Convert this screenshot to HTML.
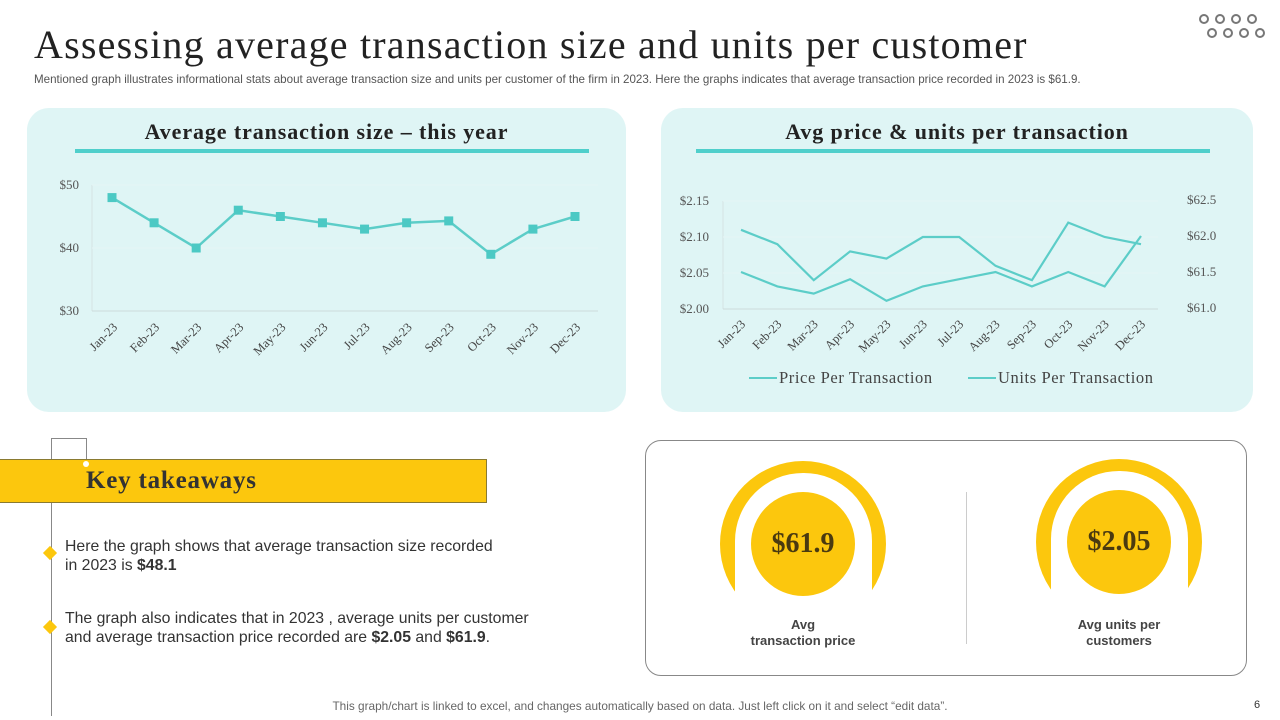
<!DOCTYPE html>
<html><head><meta charset="utf-8">
<style>
body{margin:0;width:1280px;height:720px;position:relative;background:#fff;font-family:"Liberation Sans",sans-serif;overflow:hidden}
.abs{position:absolute}
.serif{font-family:"Liberation Serif",serif}
.panel{background:#dff5f5;border-radius:22px}
</style></head><body>
<div class="abs serif" style="left:34px;top:21px;font-size:40px;color:#222;letter-spacing:1.2px;white-space:nowrap">Assessing average transaction size and units per customer</div>
<div class="abs" style="left:34px;top:73px;font-size:11.6px;color:#555;white-space:nowrap">Mentioned graph illustrates informational stats about average transaction size and units per customer of the firm in 2023. Here the graphs indicates that average transaction price recorded in 2023 is $61.9.</div>
<svg class="abs" style="left:1196px;top:12px" width="72" height="28">
<g fill="none" stroke="#777" stroke-width="2"><circle cx="8" cy="7" r="4"/><circle cx="24" cy="7" r="4"/><circle cx="40" cy="7" r="4"/><circle cx="56" cy="7" r="4"/><circle cx="16" cy="21" r="4"/><circle cx="32" cy="21" r="4"/><circle cx="48" cy="21" r="4"/><circle cx="64" cy="21" r="4"/></g></svg>

<div class="abs panel" style="left:27px;top:108px;width:599px;height:304px"></div>
<div class="abs serif" style="left:27px;top:119px;width:599px;text-align:center;font-size:22px;letter-spacing:0.9px;font-weight:bold;color:#222">Average transaction size – this year</div>
<div class="abs" style="left:75px;top:149px;width:514px;height:4px;background:#4fcfcb"></div>
<div class="abs panel" style="left:661px;top:108px;width:592px;height:304px"></div>
<div class="abs serif" style="left:661px;top:119px;width:592px;text-align:center;font-size:22px;letter-spacing:0.9px;font-weight:bold;color:#222">Avg price &amp; units per transaction</div>
<div class="abs" style="left:696px;top:149px;width:514px;height:4px;background:#4fcfcb"></div>

<svg id="charts" class="abs" style="left:0;top:0" width="1280" height="420"></svg>

<div class="abs" style="left:51px;top:438px;width:1px;height:278px;background:#888"></div>
<div class="abs" style="left:51px;top:438px;width:35px;height:22px;border-top:1px solid #888;border-right:1px solid #888"></div>
<div class="abs" style="left:0;top:459px;width:486px;height:42px;background:#fcc70d;border:1px solid #8a7a30;border-left:none"></div>
<div class="abs" style="left:83px;top:461px;width:6px;height:6px;border-radius:50%;background:#fff"></div>
<div class="abs serif" style="left:86px;top:467px;font-size:25px;letter-spacing:0.8px;font-weight:bold;color:#333">Key takeaways</div>
<div class="abs" style="left:45px;top:548px;width:10px;height:10px;background:#fcc70d;transform:rotate(45deg)"></div>
<div class="abs" style="left:65px;top:537px;font-size:15.8px;color:#333;line-height:19px;white-space:nowrap">Here the graph shows that average transaction size recorded<br>in 2023 is <b>$48.1</b></div>
<div class="abs" style="left:45px;top:622px;width:10px;height:10px;background:#fcc70d;transform:rotate(45deg)"></div>
<div class="abs" style="left:65px;top:609px;font-size:15.8px;color:#333;line-height:19px;white-space:nowrap">The graph also indicates that in 2023 , average units per customer<br>and average transaction price recorded are <b>$2.05</b> and <b>$61.9</b>.</div>

<div class="abs" style="left:645px;top:440px;width:602px;height:236px;border:1px solid #888;border-radius:16px;box-sizing:border-box"></div>
<div class="abs" style="left:966px;top:492px;width:1px;height:152px;background:#ccc"></div>
<svg class="abs" style="left:645px;top:440px" width="600" height="235">
<circle cx="158" cy="104" r="83" fill="#fcc70d"/><rect x="90" y="33" width="137" height="190" rx="68" fill="#fff"/><rect x="90" y="150" width="137" height="70" fill="#fff"/>
<circle cx="158" cy="104" r="52" fill="#fcc70d"/>
<circle cx="474" cy="102" r="83" fill="#fcc70d"/><rect x="406" y="31" width="137" height="190" rx="68" fill="#fff"/><rect x="406" y="148" width="137" height="70" fill="#fff"/>
<circle cx="474" cy="102" r="52" fill="#fcc70d"/>
</svg>
<div class="abs serif" style="left:733px;top:528px;width:140px;text-align:center;font-size:28px;font-weight:bold;color:#4a3a10">$61.9</div>
<div class="abs" style="left:733px;top:617px;width:140px;text-align:center;font-size:13px;font-weight:bold;color:#444;line-height:16px">Avg<br>transaction price</div>
<div class="abs serif" style="left:1049px;top:526px;width:140px;text-align:center;font-size:28px;font-weight:bold;color:#4a3a10">$2.05</div>
<div class="abs" style="left:1049px;top:617px;width:140px;text-align:center;font-size:13px;font-weight:bold;color:#444;line-height:16px">Avg units per<br>customers</div>

<div class="abs" style="left:0;top:699px;width:1280px;text-align:center;font-size:11.8px;color:#666">This graph/chart is linked to excel, and changes automatically based on data. Just left click on it and select “edit data”.</div>
<div class="abs" style="left:1254px;top:699px;font-size:11px;color:#333">6</div>

<script>
const months=["Jan-23","Feb-23","Mar-23","Apr-23","May-23","Jun-23","Jul-23","Aug-23","Sep-23","Oct-23","Nov-23","Dec-23"];
const sizeValues=[48,44,40,46,45,44,43,44,44.3,39,43,45];
const sizeTicks=[30,40,50];
const unitsValues=[2.11,2.09,2.04,2.08,2.07,2.10,2.10,2.06,2.04,2.12,2.10,2.09];
const priceValues=[61.5,61.3,61.2,61.4,61.1,61.3,61.4,61.5,61.3,61.5,61.3,62.0];
const unitsTicks=[2.00,2.05,2.10,2.15];
const priceTicks=[61.0,61.5,62.0,62.5];
const NS="http://www.w3.org/2000/svg";
const svg=document.getElementById('charts');
function mk(t,a,txt){const e=document.createElementNS(NS,t);for(const k in a)e.setAttribute(k,a[k]);if(txt!=null)e.textContent=txt;svg.appendChild(e);return e;}
const C="#5ccdc8";
const lx=i=>112+i*(575-112)/11, ly=v=>311-(v-30)*(311-185)/20;
mk('line',{x1:92,y1:185,x2:92,y2:311,stroke:'#d4e4e4'});
sizeTicks.forEach(t=>{
 const g=mk('line',{x1:92,x2:598,y1:ly(t),y2:ly(t),stroke:t==30?'#ccdada':'#e6f5f5'});
 
 const tx=mk('text',{x:79,y:ly(t)+4,'text-anchor':'end','font-size':13,fill:'#555','font-family':'Liberation Serif'},'$'+t);
 
});
const lp=mk('polyline',{points:sizeValues.map((v,i)=>lx(i)+','+ly(v)).join(' '),fill:'none',stroke:C,'stroke-width':2.5});

sizeValues.forEach((v,i)=>{
 const r=mk('rect',{x:lx(i)-4.5,y:ly(v)-4.5,width:9,height:9,fill:'#4cc9c4'});
 
});
months.forEach((m,i)=>{
 const t=mk('text',{x:lx(i)+6,y:328,'text-anchor':'end','font-size':12.5,fill:'#444','font-family':'Liberation Serif',transform:`rotate(-45 ${lx(i)+6} 328)`},m);
 
});
const rx=i=>741+i*(1141-741)/11, ryL=v=>309-(v-2.00)*(309-201)/0.15, ryR=v=>308-(v-61)*(308-200)/1.5;
mk('line',{x1:723,y1:201,x2:723,y2:309,stroke:'#d4e4e4'});
unitsTicks.forEach(t=>{
 const g=mk('line',{x1:723,x2:1158,y1:ryL(t),y2:ryL(t),stroke:t==2?'#ccdada':'#e6f5f5'});
 
 const tx=mk('text',{x:709,y:ryL(t)+4,'text-anchor':'end','font-size':13,fill:'#555','font-family':'Liberation Serif'},'$'+t.toFixed(2));
 
});
priceTicks.forEach(t=>{
 const tx=mk('text',{x:1187,y:ryR(t)+4,'font-size':13,fill:'#555','font-family':'Liberation Serif'},'$'+t.toFixed(1));
 
});
const u=mk('polyline',{points:unitsValues.map((v,i)=>rx(i)+','+ryL(v)).join(' '),fill:'none',stroke:C,'stroke-width':2.2});

const p=mk('polyline',{points:priceValues.map((v,i)=>rx(i)+','+ryR(v)).join(' '),fill:'none',stroke:C,'stroke-width':2.2});

months.forEach((m,i)=>{
 const t=mk('text',{x:rx(i)+5,y:325,'text-anchor':'end','font-size':12.5,fill:'#444','font-family':'Liberation Serif',transform:`rotate(-45 ${rx(i)+5} 325)`},m);
 
});
const l1=mk('line',{x1:749,x2:777,y1:378,y2:378,stroke:C,'stroke-width':2});

const t1=mk('text',{x:779,y:383,'font-size':16.5,'letter-spacing':0.6,fill:'#444','font-family':'Liberation Serif'},'Price Per Transaction');

const l2=mk('line',{x1:968,x2:996,y1:378,y2:378,stroke:C,'stroke-width':2});

const t2=mk('text',{x:998,y:383,'font-size':16.5,'letter-spacing':0.6,fill:'#444','font-family':'Liberation Serif'},'Units Per Transaction');

</script>
</body></html>
